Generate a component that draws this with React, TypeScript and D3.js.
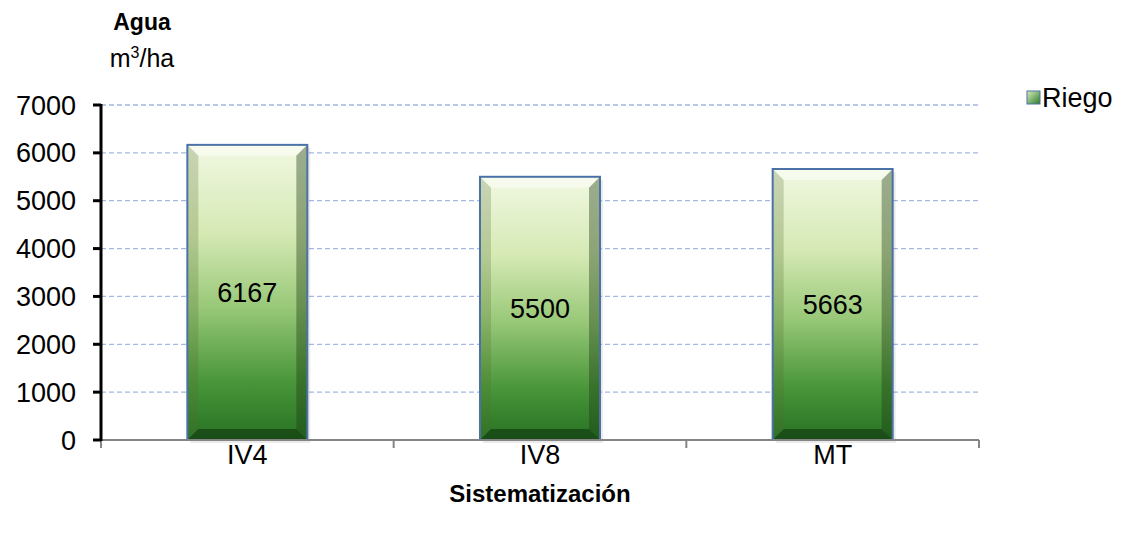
import React from "react";
import * as d3 from "d3";

const categories = ["IV4", "IV8", "MT"];
const values = [6167, 5500, 5663];
const yTicks = [0, 1000, 2000, 3000, 4000, 5000, 6000, 7000];
const seriesName = "Riego";

export default function App() {
  const W = 1124, H = 535;
  const left = 101, right = 979, top = 105, bottom = 440;
  const x = d3.scaleBand<string>().domain(categories).range([left, right]).paddingInner(0.59).paddingOuter(0.295);
  const y = d3.scaleLinear().domain([0, 7000]).range([bottom, top]);
  const font = "Liberation Sans, Arial, sans-serif";
  const bw = x.bandwidth();
  const step = (right - left) / categories.length;
  const bev = 11;
  return (
    <svg width={W} height={H} style={{ position: "absolute", left: 0, top: 0 }} fontFamily={font}>
      <defs>
        <linearGradient id="barg" x1="0" y1="0" x2="0" y2="1">
          <stop offset="0" stopColor="#f1f8e2" />
          <stop offset="0.3" stopColor="#d5e9b4" />
          <stop offset="0.55" stopColor="#98c878" />
          <stop offset="0.8" stopColor="#4a963a" />
          <stop offset="1" stopColor="#267223" />
        </linearGradient>
        <linearGradient id="legg" x1="0" y1="0" x2="1" y2="1">
          <stop offset="0" stopColor="#dcefc0" />
          <stop offset="1" stopColor="#2a7a25" />
        </linearGradient>
      </defs>
      <rect x={0} y={0} width={W} height={H} fill="#ffffff" />
      {yTicks.filter(t => t > 0).map(t => (
        <line key={t} x1={left} x2={right} y1={y(t)} y2={y(t)} stroke="#a3b8e2" strokeWidth={1.3} strokeDasharray="5,3" />
      ))}
      {categories.map((c, i) => {
        const bx = x(c)!;
        const by = y(values[i]);
        const bh = bottom - by;
        const x2 = bx + bw, y2 = bottom;
        return (
          <g key={c}>
            <rect x={bx + 3} y={by + 3} width={bw} height={bh} fill="#000" opacity={0.08} />
            <rect x={bx} y={by} width={bw} height={bh} fill="url(#barg)" />
            <polygon points={`${bx},${by} ${x2},${by} ${x2 - bev},${by + bev} ${bx + bev},${by + bev}`} fill="#ffffff" opacity={0.45} />
            <polygon points={`${bx},${by} ${bx + bev},${by + bev} ${bx + bev},${y2 - bev} ${bx},${y2}`} fill="#556b2f" opacity={0.25} />
            <polygon points={`${x2},${by} ${x2},${y2} ${x2 - bev},${y2 - bev} ${x2 - bev},${by + bev}`} fill="#1f3d14" opacity={0.4} />
            <polygon points={`${bx},${y2} ${x2},${y2} ${x2 - bev},${y2 - bev} ${bx + bev},${y2 - bev}`} fill="#0f2e0c" opacity={0.55} />
            <rect x={bx} y={by} width={bw} height={bh} fill="none" stroke="#4a72a6" strokeWidth={2} />
            <text x={bx + bw / 2} y={y(values[i] / 2) + 10} textAnchor="middle" fontSize={27} fill="#000">{values[i]}</text>
            <text x={bx + bw / 2} y={464} textAnchor="middle" fontSize={27} fill="#000">{c}</text>
          </g>
        );
      })}
      <line x1={left} x2={right} y1={bottom} y2={bottom} stroke="#858585" strokeWidth={2} />
      {d3.range(categories.length + 1).map(i => (
        <line key={i} x1={left + i * step} x2={left + i * step} y1={bottom} y2={bottom + 8} stroke="#858585" strokeWidth={2} />
      ))}
      <line x1={left} x2={left} y1={top - 1} y2={bottom + 1} stroke="#000" strokeWidth={3} />
      {yTicks.map(t => (
        <g key={t}>
          <line x1={left - 8} x2={left} y1={y(t)} y2={y(t)} stroke="#000" strokeWidth={3} />
          <text x={76} y={y(t) + 9.5} textAnchor="end" fontSize={27} fill="#000">{t}</text>
        </g>
      ))}
      <text x={142} y={30} textAnchor="middle" fontSize={23} fontWeight="bold">Agua</text>
      <text x={142} y={67} textAnchor="middle" fontSize={25}>m<tspan fontSize={16} dy={-9}>3</tspan><tspan dy={9}>/ha</tspan></text>
      <text x={540} y={502} textAnchor="middle" fontSize={24} fontWeight="bold">Sistematización</text>
      <rect x={1027} y={91} width={13} height={13} fill="url(#legg)" stroke="#4a72a6" strokeWidth={1} />
      <text x={1042} y={107} fontSize={27}>{seriesName}</text>
    </svg>
  );
}
